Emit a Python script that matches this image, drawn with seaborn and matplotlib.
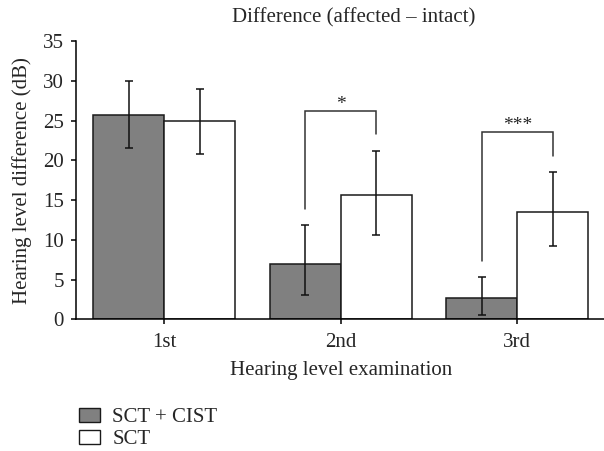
import matplotlib
matplotlib.use("Agg")
import matplotlib.pyplot as plt
import seaborn as sns
import pandas as pd
import numpy as np
from matplotlib.patches import Patch

categories = ["1st", "2nd", "3rd"]
groups = ["SCT + CIST", "SCT"]
combined_vals = [25.7, 7.0, 2.7]
combined_lo = [21.6, 3.0, 0.5]
combined_hi = [30.0, 11.8, 5.3]
sct_vals = [24.9, 15.6, 13.5]
sct_lo = [20.8, 10.6, 9.2]
sct_hi = [29.0, 21.2, 18.5]

# significance brackets
sig_cats = [1, 2]
sig_left = [13.85, 7.3]
sig_right = [23.3, 20.5]
sig_top = [26.2, 23.5]
sig_labels = ["*", "***"]

sns.set_theme(style="white")
plt.rcParams["font.family"] = ["Liberation Serif", "DejaVu Serif"]

FS = 15

df = pd.DataFrame({
    "exam": categories * 2,
    "group": [groups[0]] * 3 + [groups[1]] * 3,
    "value": combined_vals + sct_vals,
})

W, H = 604, 451
fig = plt.figure(figsize=(W / 100, H / 100), dpi=100)
ax = fig.add_axes([76 / W, 1 - 319.3 / H, (605.5 - 76) / W, 278.3 / H])

sns.barplot(data=df, x="exam", y="value", hue="group", hue_order=groups,
            palette=["#808080", "#ffffff"], edgecolor="#1a1a1a", linewidth=1.1,
            errorbar=None, width=0.805, ax=ax, legend=False)

los = [combined_lo, sct_lo]
his = [combined_hi, sct_hi]
vals = [combined_vals, sct_vals]
centers = {}
bar_containers = list(ax.containers)[:2]
for gi, cont in enumerate(bar_containers):
    for ci, bar in enumerate(cont.patches):
        xc = bar.get_x() + bar.get_width() / 2
        centers[(gi, ci)] = xc
        v = vals[gi][ci]
        ax.errorbar(xc, v, yerr=[[v - los[gi][ci]], [his[gi][ci] - v]],
                    fmt="none", ecolor="#111111", elinewidth=1.1, capsize=2.6,
                    capthick=1.1, zorder=5)

for k, ci in enumerate(sig_cats):
    x0 = centers[(0, ci)]
    x1 = centers[(1, ci)]
    ax.plot([x0, x0, x1, x1], [sig_left[k], sig_top[k], sig_top[k], sig_right[k]],
            color="#333333", lw=1.1, zorder=6, solid_joinstyle="miter")
    ax.text((x0 + x1) / 2, sig_top[k] - 0.2, sig_labels[k], ha="center", va="bottom",
            fontsize=FS - 1)

ax.set_xlim(-0.5, 2.5)
ax.set_ylim(0, 35)
ax.set_yticks(range(0, 36, 5))
for s in ["top", "right"]:
    ax.spines[s].set_visible(False)
for s in ["left", "bottom"]:
    ax.spines[s].set_color("black")
    ax.spines[s].set_linewidth(1.1)
ax.tick_params(axis="both", which="both", direction="out", length=3.6, width=1.1,
               color="black", labelsize=FS, left=True, bottom=True)
ax.tick_params(axis="y", pad=5)
ax.tick_params(axis="x", pad=6)
ax.set_xlabel("Hearing level examination", fontsize=FS, labelpad=7)
ax.set_ylabel("Hearing level difference (dB)", fontsize=FS, labelpad=8)
fig.text(354 / W, 1 - 22 / H, "Difference (affected \u2013 intact)", fontsize=FS,
         ha="center", va="baseline")

handles = [Patch(facecolor="#808080", edgecolor="#1a1a1a", lw=1.0),
           Patch(facecolor="white", edgecolor="#1a1a1a", lw=1.0)]
fig.legend(handles, groups, loc="upper left", bbox_to_anchor=(79 / W, 1 - 408 / H),
           frameon=False, fontsize=FS, handlelength=1.0, handleheight=0.63,
           handletextpad=0.6, labelspacing=0.15, borderaxespad=0, borderpad=0)

fig.savefig("out.png", dpi=100)
